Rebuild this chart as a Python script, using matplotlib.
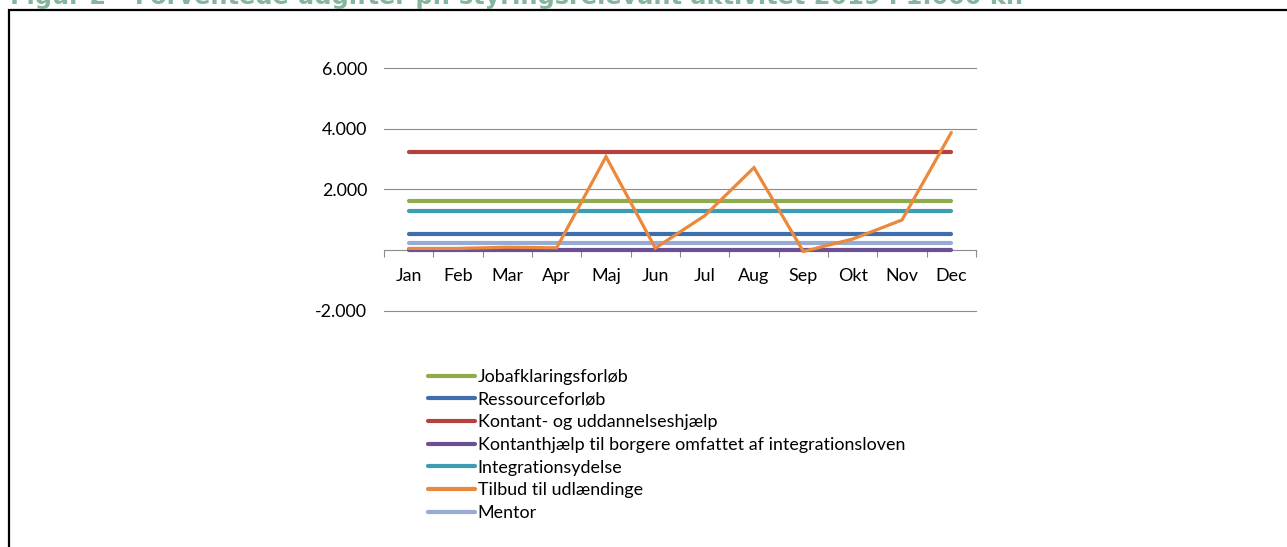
import numpy as np
import matplotlib
matplotlib.use("Agg")
import matplotlib.pyplot as plt
from matplotlib.lines import Line2D
from matplotlib.patches import Rectangle

plt.rcParams.update({"font.family": ["Lato", "DejaVu Sans"]})

months = ["Jan", "Feb", "Mar", "Apr", "Maj", "Jun", "Jul", "Aug", "Sep", "Okt", "Nov", "Dec"]

# expected spend per month, 1.000 kr.
jobafklaring = [1630] * 12
ressource = [528] * 12
kontant_udd = [3227] * 12
kontant_integr = [10] * 12
integrationsydelse = [1288] * 12
tilbud_udl = [50, 50, 90, 70, 3080, 60, 1130, 2720, -50, 360, 990, 3880]
mentor = [241] * 12

labels = [
    "Jobafklaringsforløb",
    "Ressourceforløb",
    "Kontant- og uddannelseshjælp",
    "Kontanthjælp til borgere omfattet af integrationsloven",
    "Integrationsydelse",
    "Tilbud til udlændinge",
    "Mentor",
]
colors = ["#8EAC4C", "#3F6EAE", "#B3423F", "#6C4F94", "#3C9CB3", "#EA883C", "#96ABD6"]
yticks = [-2000, 2000, 4000, 6000]
ytick_labels = ["-2.000", "2.000", "4.000", "6.000"]

title = "Figur 2 \u2013 Forventede udgifter pr. styringsrelevant aktivitet 2019 i 1.000 kr."

W, H = 1287, 547
fig = plt.figure(figsize=(W / 100, H / 100), dpi=100)

# frame around the figure box (only top and left visible in the crop)
fig.patches.append(Rectangle((9 / W, -0.1), 1.2, 1 - 10 / H + 0.1, transform=fig.transFigure,
                             fill=False, edgecolor="black", lw=1.6))
# title sits partly above the crop, as in the source
fig.text(10 / W, 1 - 4 / H, title, color="#86B59E", fontsize=17.3, fontweight="bold",
         family="DejaVu Sans", va="baseline", ha="left")

ax = fig.add_axes([384 / W, 1 - 310.5 / H, 592 / W, (310.5 - 68.3) / H])
x = np.arange(12)
series = [jobafklaring, ressource, kontant_udd, kontant_integr, integrationsydelse, tilbud_udl, mentor]
zorders = [3, 3, 3, 2.5, 3, 5, 4]
for vals, c, lab, z in zip(series, colors, labels, zorders):
    lw = 2.3 if lab == "Tilbud til udlændinge" else 3.0
    ax.plot(x, vals, color=c, lw=lw, solid_capstyle="round", solid_joinstyle="miter",
            label=lab, zorder=z)

ax.set_xlim(-0.5, 11.5)
ax.set_ylim(-2000, 6000)
ax.set_yticks(yticks)
ax.set_yticklabels(ytick_labels)
ax.tick_params(axis="y", length=0, pad=12, labelsize=12.9, colors="#000000")
ax.grid(axis="y", color="#8C8C8C", lw=0.8, zorder=0)
for gl in ax.get_ygridlines():
    gl.set_clip_on(False)
ax.set_axisbelow(True)

ax.set_xticks(x)
ax.set_xticklabels(months)
ax.set_xticks(np.arange(-0.5, 12, 1), minor=True)
ax.tick_params(axis="x", which="major", length=0, pad=13, labelsize=12.9)
ax.tick_params(axis="x", which="minor", length=5, width=0.8, color="#8C8C8C", direction="out")

for s in ["top", "right", "left"]:
    ax.spines[s].set_visible(False)
ax.spines["bottom"].set_position(("data", 0))
ax.spines["bottom"].set_color("#8C8C8C")
ax.spines["bottom"].set_linewidth(0.8)
ax.spines["bottom"].set_zorder(1)

handles = [Line2D([], [], color=c, lw=3.0, solid_capstyle="round") for c in colors]
fig.legend(handles, labels, loc="upper left", bbox_to_anchor=(428 / W, 1 - 369 / H),
           frameon=False, fontsize=12.9, handlelength=2.65, handletextpad=0.12,
           labelspacing=0.37, borderpad=0, borderaxespad=0)

fig.savefig("out.png", dpi=100)
